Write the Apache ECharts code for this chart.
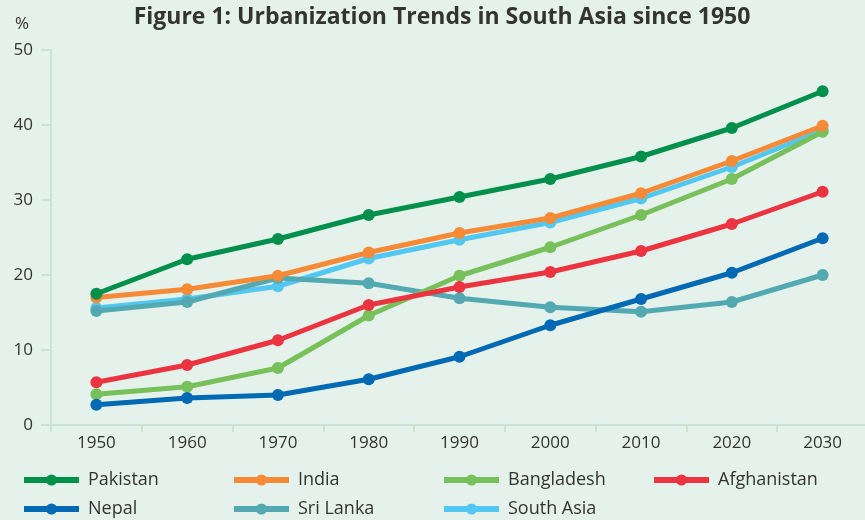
<!DOCTYPE html>
<html>
<head>
<meta charset="utf-8">
<script src="https://cdn.jsdelivr.net/npm/echarts@6/dist/echarts.min.js"></script>
<style>
html, body { margin: 0; padding: 0; background: #e5f2eb; }
#chart { width: 865px; height: 520px; }
</style>
</head>
<body>
<div id="chart"></div>
<script>
var years = ['1950', '1960', '1970', '1980', '1990', '2000', '2010', '2020', '2030'];
var pakistan    = [17.5, 22.1, 24.8, 28.0, 30.4, 32.8, 35.8, 39.6, 44.5];
var india       = [17.0, 18.1, 19.9, 23.0, 25.6, 27.6, 30.9, 35.2, 39.9];
var bangladesh  = [4.1, 5.1, 7.6, 14.6, 19.9, 23.7, 28.0, 32.8, 39.1];
var afghanistan = [5.7, 8.0, 11.3, 16.0, 18.4, 20.4, 23.2, 26.8, 31.1];
var nepal       = [2.7, 3.6, 4.0, 6.1, 9.1, 13.3, 16.8, 20.3, 24.9];
var sriLanka    = [15.2, 16.4, 19.6, 18.9, 16.9, 15.7, 15.1, 16.4, 20.0];
var southAsia   = [15.6, 16.8, 18.5, 22.2, 24.7, 27.0, 30.2, 34.4, 39.3];

var font = '"Open Sans", sans-serif';
var axisColor = '#c9e4d3';

// name, data, colour, z (drawing order)
var lines = [
    ['Pakistan', pakistan, '#00904c', 7],
    ['India', india, '#f68a36', 6],
    ['Bangladesh', bangladesh, '#77c05a', 3],
    ['Afghanistan', afghanistan, '#ec3340', 4],
    ['Nepal', nepal, '#0069b4', 5],
    ['Sri Lanka', sriLanka, '#53a9b1', 2],
    ['South Asia', southAsia, '#52c7f2', 1]
];

var series = [];
var legends = [];
for (var i = 0; i < lines.length; i++) {
    series.push({
        name: lines[i][0],
        type: 'line',
        data: lines[i][1],
        z: lines[i][3],
        symbol: 'circle',
        symbolSize: 12,
        itemStyle: { color: lines[i][2] },
        lineStyle: { color: lines[i][2], width: 5 },
        emphasis: { disabled: true }
    });
    legends.push({
        data: [lines[i][0]],
        left: 16 + (i % 4) * 210,
        top: i < 4 ? 466 : 495,
        itemWidth: 55,
        itemHeight: 14,
        itemGap: 0,
        selectedMode: false,
        lineStyle: { width: 6 },
        textStyle: { fontFamily: font, fontSize: 18, color: '#333', padding: [0, 0, 0, 4] }
    });
}

var chart = echarts.init(document.getElementById('chart'));
var option = {
    backgroundColor: '#e5f2eb',
    animation: false,
    title: {
        text: 'Figure 1: Urbanization Trends in South Asia since 1950',
        left: 437,
        textAlign: 'center',
        top: 1,
        textStyle: { fontFamily: font, fontSize: 23, fontWeight: 'bold', color: '#333' }
    },
    legend: legends,
    grid: { left: 51, right: -3, top: 50, bottom: 95, outerBoundsMode: 'none', containLabel: false },
    xAxis: {
        type: 'category',
        data: years,
        boundaryGap: true,
        axisLine: { lineStyle: { color: axisColor, width: 2 } },
        axisTick: { show: true, length: 7, lineStyle: { color: axisColor, width: 2 } },
        axisLabel: { fontFamily: font, fontSize: 17, color: '#333', margin: 10 }
    },
    yAxis: {
        type: 'value',
        name: '%',
        nameLocation: 'end',
        nameGap: 17,
        nameTextStyle: { fontFamily: font, fontSize: 17, color: '#333', align: 'right', padding: [0, 22, 0, 0] },
        min: 0,
        max: 50,
        interval: 10,
        axisLine: { show: true, lineStyle: { color: axisColor, width: 2 } },
        axisTick: { show: true, length: 10, lineStyle: { color: axisColor, width: 2 } },
        splitLine: { show: false },
        axisLabel: { fontFamily: font, fontSize: 17, color: '#333', margin: 18 }
    },
    series: series
};
chart.setOption(option);
</script>
</body>
</html>
